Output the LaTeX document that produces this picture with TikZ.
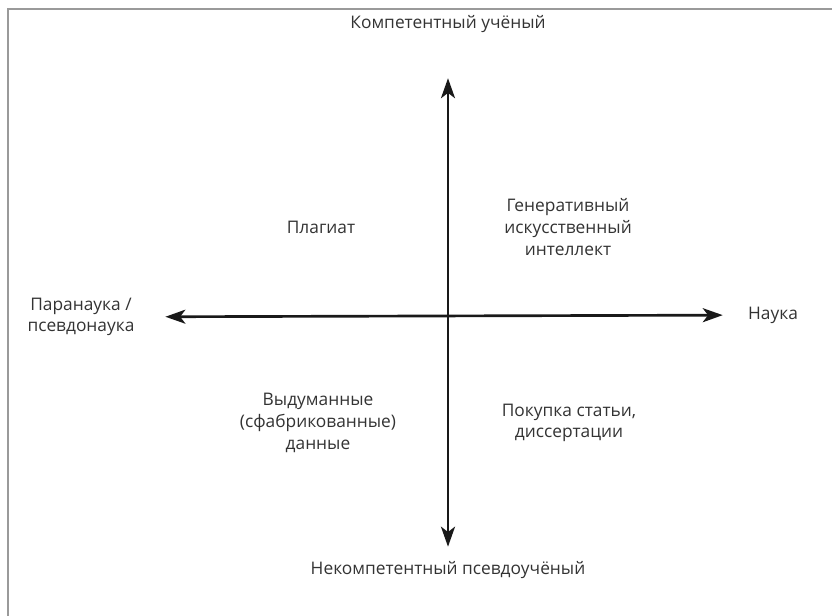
\documentclass[tikz,border=0pt]{standalone}
\usepackage{fontspec}
\setmainfont{Open Sans}
\usetikzlibrary{arrows.meta,positioning}
\definecolor{textgray}{HTML}{333333}
\definecolor{framegray}{HTML}{9A9A9A}

\begin{document}
\begin{tikzpicture}[
        x=0.75pt, y=-0.75pt,
        font=\fontsize{13}{16.3}\selectfont,
        lbl/.style={text=textgray, align=center, inner sep=2pt},
        axis/.style={{Stealth[length=15pt, width=10.5pt, inset=4pt]}-{Stealth[length=15pt, width=10.5pt, inset=4pt]}, line width=2pt, black!90}
        ]
        \clip (0,0) rectangle (832,616);
        \draw[framegray, line width=1.3pt] (8,9) rectangle (850,640);

        \node[lbl] (comp) at (448,24) {Компетентный учёный};
        \node[lbl] (incomp) at (448,570) {Некомпетентный псевдоучёный};
        \node[lbl] (pseudo) at (81,317) {Паранаука /\\псевдонаука};
        \node[lbl] (science) at (773,315) {Наука};

        \node[lbl] (plag) at (321,227) {Плагиат};
        \node[lbl] (genai) at (568,227) {Генеративный\\искусственный\\интеллект};
        \node[lbl] (fake) at (318,423) {Выдуманные\\(сфабрикованные)\\данные};
        \node[lbl] (buy) at (569,423) {Покупка статьи,\\диссертации};

        \draw[axis, shorten <=32pt, shorten >=8.8pt] (comp) -- (incomp);
        \draw[axis, shorten <=21pt, shorten >=16.8pt] (pseudo) -- (science);
    \end{tikzpicture}
\end{document}
